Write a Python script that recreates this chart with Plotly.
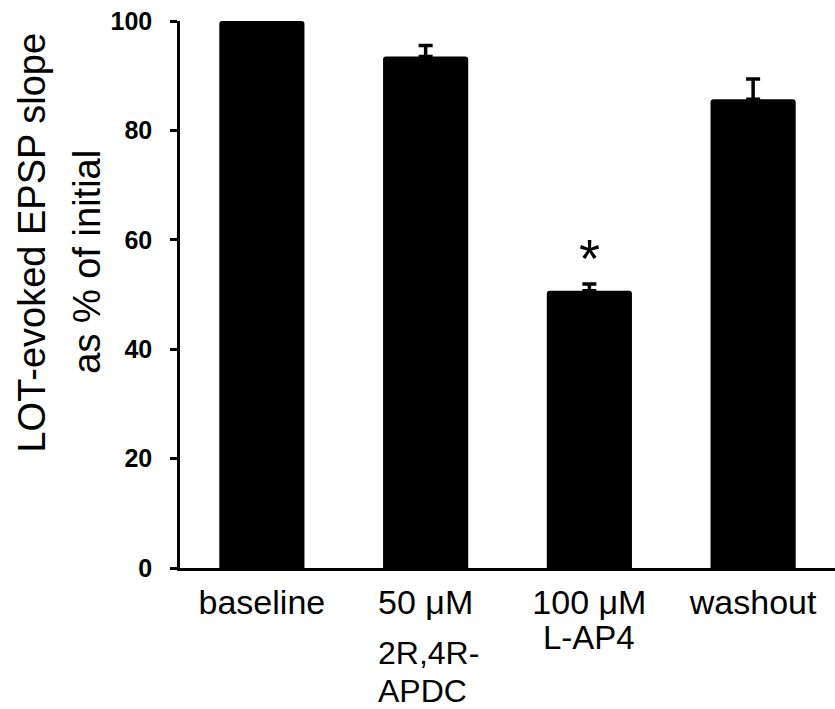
import plotly.graph_objects as go

# ---- data ----
tick_labels = ["baseline", "50 μM", "100 μM", "washout"]
sub_labels = [[], ["2R,4R-", "APDC"], ["L-AP4"], []]
values = [100.0, 93.5, 50.7, 85.7]
errors_up = [0.0, 2.0, 1.2, 3.7]
significance = ["", "", "*", ""]
y_ticks = [0, 20, 40, 60, 80, 100]
y_title_lines = ["LOT-evoked EPSP slope", "as % of initial"]

FONT = "Liberation Sans, Arial, sans-serif"
cats = list(range(len(tick_labels)))

fig = go.Figure()
fig.add_trace(go.Bar(
    x=cats, y=values, width=0.52,
    marker=dict(color="black", line=dict(width=0), cornerradius=3),
    error_y=dict(type="data", array=errors_up, arrayminus=[0] * len(values),
                 symmetric=False, color="black", thickness=3.5, width=7),
    showlegend=False,
))

annotations = []
# significance markers
for i, s in enumerate(significance):
    if s:
        annotations.append(dict(x=i, y=values[i] + errors_up[i], xref="x", yref="y",
                                text=s, showarrow=False, yanchor="bottom", yshift=-6,
                                font=dict(family=FONT, size=54, color="black")))
# extra tick-label lines
line_shift = {1: [-85, -123], 2: [-69.5]}
for i, lines in enumerate(sub_labels):
    for j, t in enumerate(lines):
        if i == 1:
            annotations.append(dict(x=i, y=0, xref="x", yref="paper", text=t, showarrow=False,
                                    xanchor="left", xshift=-50, yanchor="middle",
                                    yshift=line_shift[i][j],
                                    font=dict(family=FONT, size=32, color="black")))
        else:
            annotations.append(dict(x=i, y=0, xref="x", yref="paper", text=t, showarrow=False,
                                    xanchor="center", yanchor="middle",
                                    yshift=line_shift[i][j],
                                    font=dict(family=FONT, size=33, color="black")))
# y title lines
title_pos = [(-148, 0.595), (-93, 0.56)]
for t, (xs, yp) in zip(y_title_lines, title_pos):
    annotations.append(dict(x=0, y=yp, xref="paper", yref="paper", text=t, showarrow=False,
                            textangle=-90, xanchor="center", yanchor="middle", xshift=xs,
                            font=dict(family=FONT, size=38, color="black")))

fig.update_layout(
    width=835, height=709,
    margin=dict(l=180, r=0, t=21, b=141, pad=0),
    paper_bgcolor="white", plot_bgcolor="white",
    font=dict(family=FONT, color="black"),
    annotations=annotations,
    xaxis=dict(
        range=[-0.5, 3.5], tickmode="array", tickvals=cats, ticktext=tick_labels,
        showline=True, linecolor="black", linewidth=2.5, ticks="",
        showgrid=False, zeroline=False,
        tickfont=dict(family=FONT, size=34, color="black"),
        ticklabelstandoff=2,
    ),
    yaxis=dict(
        range=[0, 100], tickmode="array", tickvals=y_ticks,
        ticktext=[f"<b>{v}</b>" for v in y_ticks],
        showline=True, linecolor="black", linewidth=2.5,
        ticks="outside", ticklen=7, tickwidth=2.5, tickcolor="black",
        showgrid=False, zeroline=False,
        tickfont=dict(family=FONT, size=25, color="black"),
        ticklabelstandoff=13,
    ),
)

fig.write_html("out.html")
